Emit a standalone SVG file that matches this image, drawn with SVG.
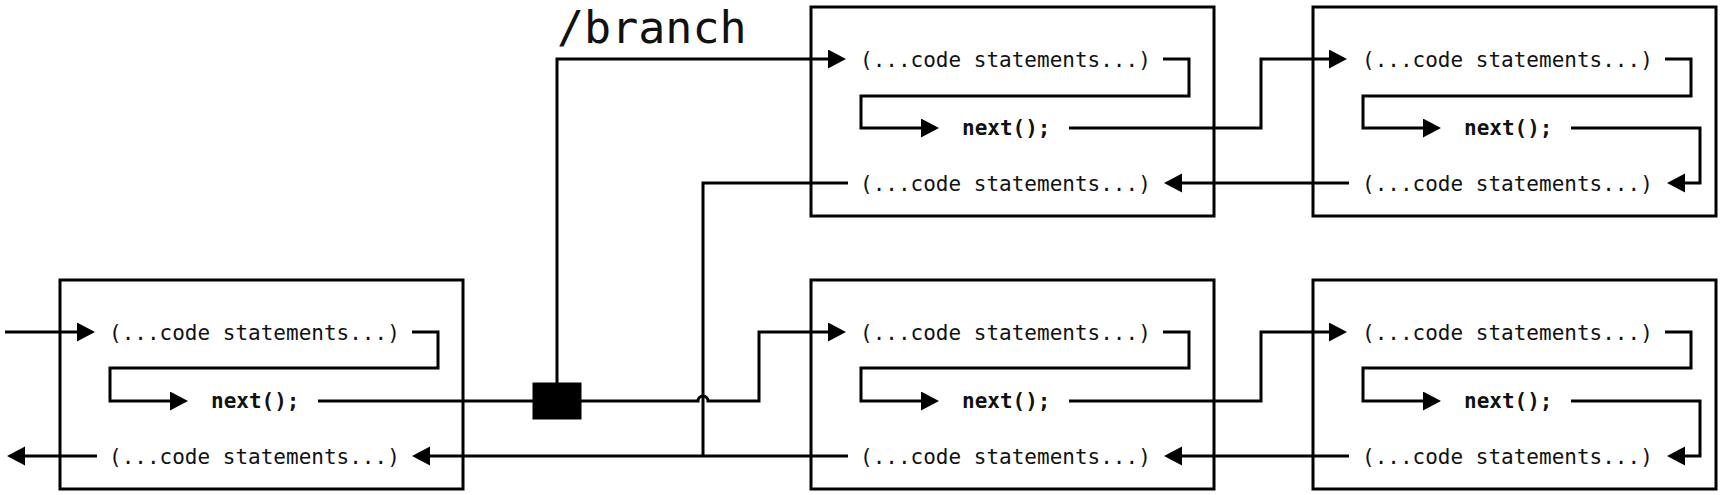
<svg xmlns="http://www.w3.org/2000/svg" width="1722" height="495" viewBox="0 0 1722 495">
<style>
.box{fill:#fff;stroke:#000;stroke-width:3}
.ln{fill:none;stroke:#000;stroke-width:3}
.arr{fill:none;stroke:#000;stroke-width:3;marker-end:url(#ah)}
.code{font-family:"DejaVu Sans Mono","Liberation Mono",monospace;font-size:21px;fill:#111}
.nx{font-family:"DejaVu Sans Mono","Liberation Mono",monospace;font-size:21px;font-weight:bold;fill:#111}
.lbl{font-family:"DejaVu Sans Mono","Liberation Mono",monospace;font-size:45px;fill:#111}
</style>
<defs>
<marker id="ah" markerUnits="userSpaceOnUse" markerWidth="20" markerHeight="20" refX="8" refY="9.5" orient="auto">
<path d="M0,0 L18,9.5 L0,19 z" fill="#000"/>
</marker>
</defs>
<rect width="1722" height="495" fill="#fff"/>

<g id="node-start">
<rect class="box" x="60" y="280" width="403" height="209"/>
<text class="code" x="109" y="340">(...code statements...)</text>
<text class="nx" x="211" y="408">next();</text>
<text class="code" x="109" y="464">(...code statements...)</text>
<path class="arr" d="M412,332 H438 V368 H110 V401 H178"/>
</g>

<g id="node-top-mid">
<rect class="box" x="811" y="7" width="403" height="209"/>
<text class="code" x="860" y="67">(...code statements...)</text>
<text class="nx" x="962" y="135">next();</text>
<text class="code" x="860" y="191">(...code statements...)</text>
<path class="arr" d="M1163,59 H1189 V96 H861 V128 H929"/>
</g>

<g id="node-top-right">
<rect class="box" x="1313" y="7" width="403" height="209"/>
<text class="code" x="1362" y="67">(...code statements...)</text>
<text class="nx" x="1464" y="135">next();</text>
<text class="code" x="1362" y="191">(...code statements...)</text>
<path class="arr" d="M1665,59 H1691 V96 H1363 V128 H1431"/>
<path class="arr" d="M1571,128 H1700 V183 H1677"/>
</g>

<g id="node-bot-mid">
<rect class="box" x="811" y="280" width="403" height="209"/>
<text class="code" x="860" y="340">(...code statements...)</text>
<text class="nx" x="962" y="408">next();</text>
<text class="code" x="860" y="464">(...code statements...)</text>
<path class="arr" d="M1163,332 H1189 V368 H861 V401 H929"/>
</g>

<g id="node-bot-right">
<rect class="box" x="1313" y="280" width="403" height="209"/>
<text class="code" x="1362" y="340">(...code statements...)</text>
<text class="nx" x="1464" y="408">next();</text>
<text class="code" x="1362" y="464">(...code statements...)</text>
<path class="arr" d="M1665,332 H1691 V368 H1363 V401 H1431"/>
<path class="arr" d="M1571,401 H1700 V456 H1677"/>
</g>

<g id="node-branch">
<rect x="533" y="383" width="48" height="36" fill="#000" stroke="#000" stroke-width="1"/>
<text class="lbl" x="557" y="43">/branch</text>
</g>

<g id="connectors">
<path class="arr" d="M5,332 H85"/>
<path class="ln" d="M318,401 H533"/>
<path class="arr" d="M557,383 V59 H836"/>
<path class="arr" d="M581,401 H698 A5,5 0 0 1 708,401 H759 V332 H836"/>
<path class="arr" d="M1069,128 H1261 V59 H1337"/>
<path class="arr" d="M1069,401 H1261 V332 H1337"/>
<path class="arr" d="M1349,183 H1174"/>
<path class="arr" d="M1349,456 H1174"/>
<path class="ln" d="M848,183 H703 V456"/>
<path class="arr" d="M848,456 H422"/>
<path class="arr" d="M97,456 H17"/>
</g>
</svg>
